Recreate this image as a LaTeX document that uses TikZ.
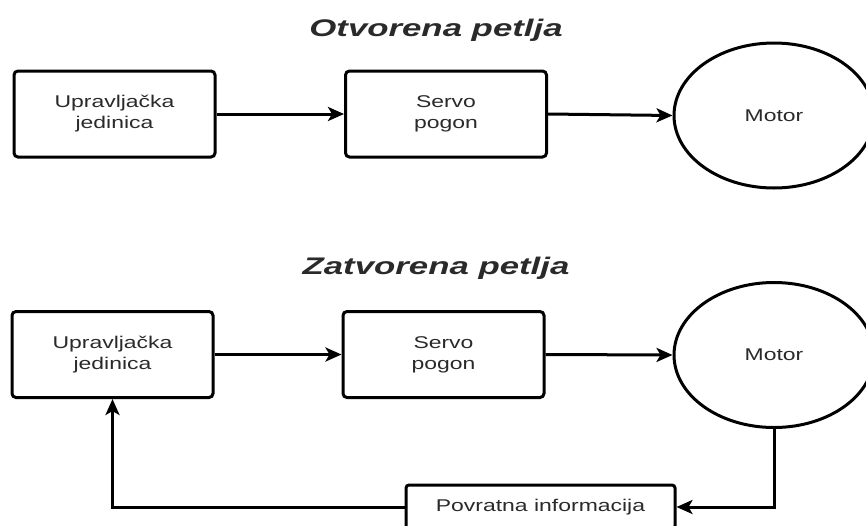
\documentclass[tikz,border=0pt]{standalone}
\usepackage{fontspec}
\setmainfont{Liberation Sans}
\newfontfamily\widefont[FakeStretch=1.35]{Liberation Sans}
\newfontfamily\titlefont[FakeStretch=1.45]{Liberation Sans}
\usetikzlibrary{arrows.meta,shapes.geometric}
\definecolor{txt}{HTML}{2A2A2A}
\tikzset{
  blk/.style={draw=black, line width=3pt, rounded corners=4pt, fill=white,
    minimum width=201pt, minimum height=86pt, align=center, inner sep=0pt,
    font=\widefont\fontsize{17}{21}\selectfont, text=txt},
  mot/.style={draw=black, line width=3pt, ellipse, fill=white,
    minimum width=200pt, minimum height=145pt, inner sep=0pt,
    font=\widefont\fontsize{17}{21}\selectfont, text=txt},
  ttl/.style={font=\titlefont\bfseries\itshape\fontsize{24}{27}\selectfont, text=txt},
  conn/.style={line width=3pt, -{Stealth[length=16pt,width=14pt,inset=4pt]}}
}
\begin{document}
\begin{tikzpicture}[x=1pt,y=-1pt]
\useasboundingbox (0,0) rectangle (866,525);
% open loop
\node[ttl] (t1) at (436,30) {Otvorena petlja};
\node[blk] (a1) at (114.5,114) {Upravljačka\\jedinica};
\node[blk] (b1) at (446,114) {Servo\\pogon};
\node[mot] (m1) at (774,115.5) {Motor};
\draw[conn] (a1.east) -- (b1.west);
\draw[conn] (b1.east) -- (m1.west);
% closed loop
\node[ttl] (t2) at (436,268) {Zatvorena petlja};
\node[blk] (a2) at (112.5,354.5) {Upravljačka\\jedinica};
\node[blk] (b2) at (443.5,354.5) {Servo\\pogon};
\node[mot] (m2) at (774,355) {Motor};
\node[blk, minimum width=269pt, minimum height=44pt, rounded corners=3pt] (p) at (540.5,507) {Povratna informacija};
\draw[conn] (a2.east) -- (b2.west);
\draw[conn] (b2.east) -- (m2.west);
\draw[conn] (m2.south) |- (p.east);
\draw[conn] (p.west) -| (a2.south);
\end{tikzpicture}
\end{document}
